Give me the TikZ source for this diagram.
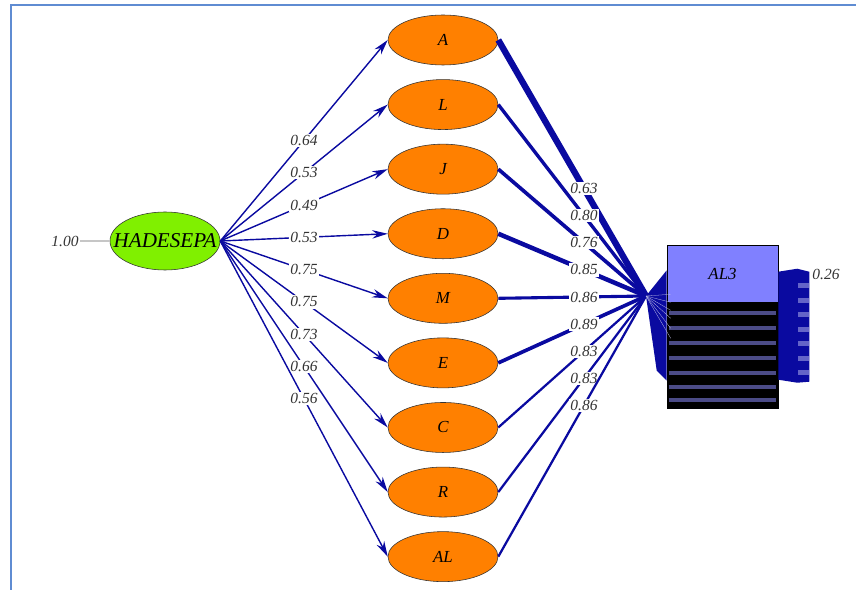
\documentclass[tikz,border=0pt]{standalone}
\usepackage{fontspec}
\setmainfont{Liberation Serif}
\usetikzlibrary{arrows.meta, positioning, shapes.geometric, calc}
\definecolor{navy}{RGB}{10,10,160}
\definecolor{lime}{RGB}{128,240,0}
\definecolor{orng}{RGB}{255,128,0}
\definecolor{lavend}{RGB}{128,128,255}
\definecolor{stripe}{RGB}{75,75,135}
\definecolor{stripelight}{RGB}{100,100,200}
\definecolor{framecol}{RGB}{95,140,210}
\tikzset{
  latent/.style = {
    ellipse, draw=black!80, thin, fill=orng, minimum width=2.75cm, minimum height=1.25cm,
    inner sep=0pt, font=\fontsize{12}{14}\selectfont\itshape
  },
  factor/.style = {
    latent, fill=lime, minimum height=1.45cm, font=\fontsize{15}{17}\selectfont\itshape
  },
  indicator/.style = {
    draw=black, thin, fill=lavend, minimum width=2.775cm, minimum height=1.425cm,
    inner sep=0pt, font=\fontsize{12}{14}\selectfont\itshape
  },
  load/.style = {->, >={Stealth[length=11pt, width=6pt]}, navy, line width=1pt},
  coef/.style = {fill=white, inner sep=1pt, text=black!80, font=\fontsize{11}{13}\selectfont\itshape},
}

\begin{document}
\begin{tikzpicture}[x=0.025cm, y=0.025cm, node distance=0.35cm]
    \useasboundingbox (0,0) rectangle (856,-590);
    % frame of the window
    \draw[framecol, line width=1.8pt] (856,-5) -- (11,-5) -- (11,-590);

    % latent factor and its variance
    \node[factor] (hade) at (165,-241) {\makebox[0pt]{HADESEPA}};
    \node[coef, fill=none] (var) at (65,-241) {1.00};
    \draw[gray!45, line width=1pt] (var) -- (hade);

    % first order factors, stacked
    \node[latent] (A) at (443,-40) {A};
    \node[latent, below=of A] (L) {L};
    \node[latent, below=of L] (J) {J};
    \node[latent, below=of J] (D) {D};
    \node[latent, below=of D] (M) {M};
    \node[latent, below=of M] (E) {E};
    \node[latent, below=of E] (C) {C};
    \node[latent, below=of C] (R) {R};
    \node[latent, below=of R] (AL) {AL};

    % observed indicator
    \node[indicator] (al3) at (722.5,-273.5) {AL3};
    \node[draw=black, thin, fill=black, minimum width=2.775cm, minimum height=2.65cm,
      inner sep=0pt, below=0pt of al3] (al3res) {};
    \foreach \yy in {11,26,41,56,71,85,98}
      \draw[stripe, line width=2.6pt] ($(al3res.north west)+(2,-\yy)$) -- ($(al3res.north east)+(-2,-\yy)$);

    % loadings on the second order factor
    \foreach \n/\v in {A/0.64, L/0.53, J/0.49, D/0.53, M/0.75, E/0.75, C/0.73, R/0.66, AL/0.56}
      \draw[load] (hade.east) -- node[coef] {\v} (\n.west);

    % paths into AL3
    \coordinate (conv) at (646,-296);
    \fill[navy] (conv) -- ($(al3.south west)+(0,32)$) -- ($(al3res.west)+(0,-25)$) -- ($(al3res.west)+(-10,-15)$) -- cycle;
    \foreach \n/\v/\w in {A/0.63/4.5pt, L/0.80/2.4pt, J/0.76/2.6pt, D/0.85/3.2pt, M/0.86/2.2pt, E/0.89/2.6pt, C/0.83/1.6pt, R/0.83/1.6pt, AL/0.86/1.6pt}
      \draw[navy, line width=\w] (\n.east) -- node[coef, pos=0.58] {\v} (conv);
    \foreach \yy in {-8,0,8,16,26,36}
      \draw[white!75!navy, very thin] (conv) -- ($(al3.south west)+(4,-\yy)$);

    % error of AL3
    \fill[navy] ($(al3.north east)+(0,-27)$) -- ++(19,3) -- ++(12,-3) -- ++(0,-110) -- ++(-12,-1) -- ++(-19,3) -- cycle;
    \foreach \yy in {283,298,312,327,341,356,370}
      \fill[stripelight] (798,-\yy) rectangle (809,-\yy-5);
    \node[coef, fill=none] (err) at (826,-274) {0.26};

\end{tikzpicture}
\end{document}
